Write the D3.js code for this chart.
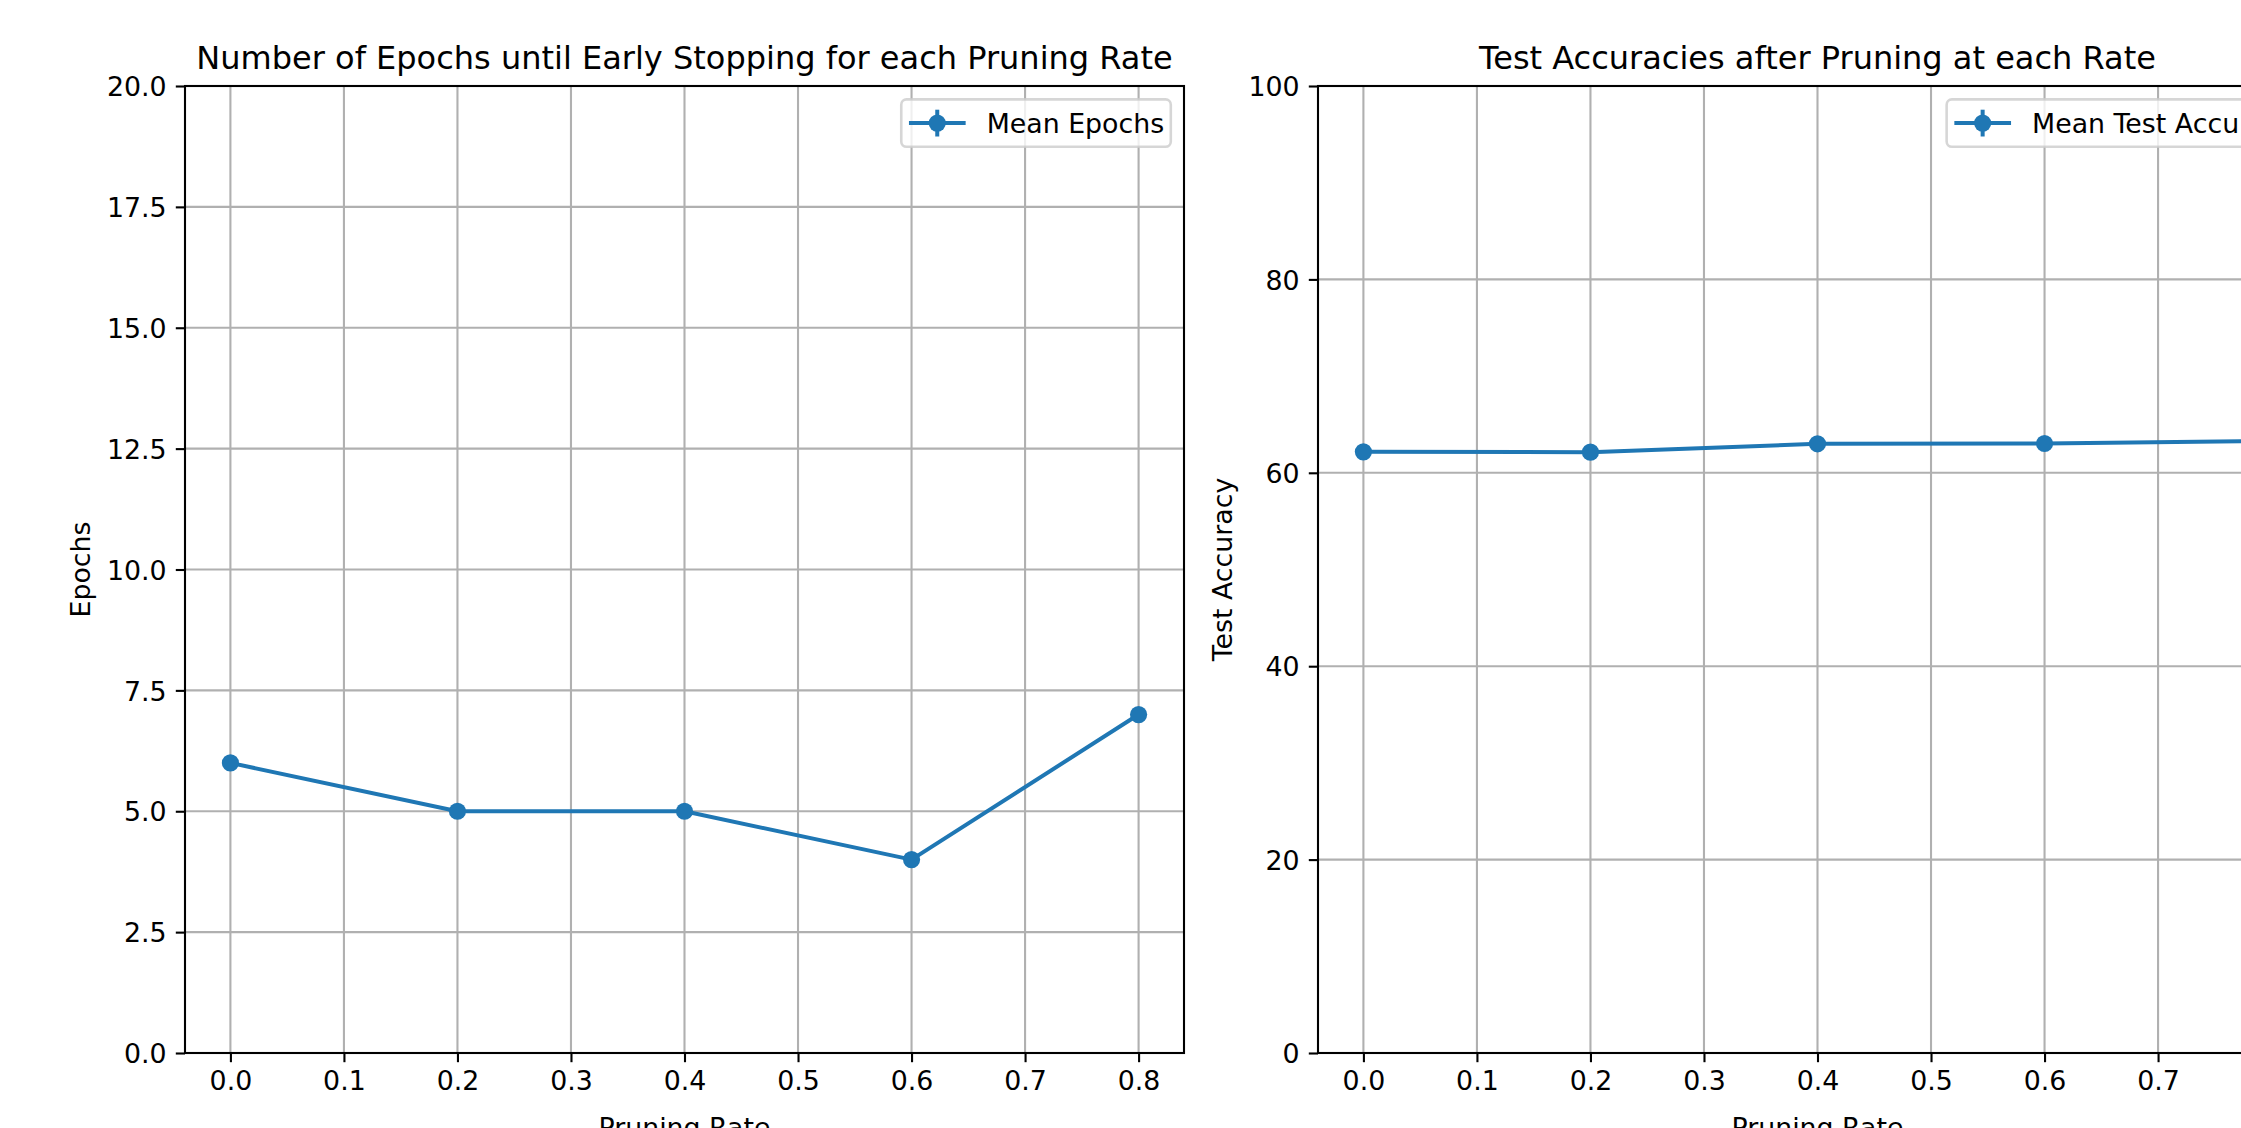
<!DOCTYPE html>
<html>
<head>
<meta charset="utf-8">
<script src="https://cdn.jsdelivr.net/npm/d3@7"></script>
<style>
  body { margin: 0; background: #fff; }
  svg { display: block; }
  text { font-family: "DejaVu Sans", sans-serif; fill: #000; }
</style>
</head>
<body>
<svg id="chart" width="2241" height="1128"></svg>
<script>
// values
const pruningRates = [0.0, 0.2, 0.4, 0.6, 0.8];
const meanEpochs = [6, 5, 5, 4, 7];
const meanTestAccuracy = [62.17, 62.13, 63.0, 63.03, 63.3];

const rateTicks = [0, 0.1, 0.2, 0.3, 0.4, 0.5, 0.6, 0.7, 0.8];
const epochTicks = [0, 2.5, 5, 7.5, 10, 12.5, 15, 17.5, 20];
const accuracyTicks = [0, 20, 40, 60, 80, 100];

const blue = "#1f77b4";
const fs = 26.8; // tick / label / legend font
const titleFs = 32;
const lw = 2.1; // spine + grid width

const svg = d3.select("#chart");

const panels = [
  {
    left: 185, right: 1184, top: 86, bottom: 1053,
    title: "Number of Epochs until Early Stopping for each Pruning Rate",
    ylabel: "Epochs",
    values: meanEpochs,
    yDomain: [0, 20],
    yTicks: epochTicks,
    yFormat: d3.format(".1f"),
    legend: "Mean Epochs",
  },
  {
    left: 1318, right: 2317, top: 86, bottom: 1053,
    title: "Test Accuracies after Pruning at each Rate",
    ylabel: "Test Accuracy",
    values: meanTestAccuracy,
    yDomain: [0, 100],
    yTicks: accuracyTicks,
    yFormat: d3.format("d"),
    legend: "Mean Test Accuracy",
  },
];

panels.forEach(drawPanel);

function drawPanel(p) {
  const x = d3.scaleLinear().domain([-0.04, 0.84]).range([p.left, p.right]);
  const y = d3.scaleLinear().domain(p.yDomain).range([p.bottom, p.top]);
  const g = svg.append("g");

  // grid
  const grid = g.append("g").attr("stroke", "#b0b0b0").attr("stroke-width", lw);
  grid.selectAll(".vgrid")
    .data(rateTicks)
    .join("line")
    .attr("x1", (d) => x(d)).attr("x2", (d) => x(d))
    .attr("y1", p.top).attr("y2", p.bottom);
  grid.selectAll(".hgrid")
    .data(p.yTicks)
    .join("line")
    .attr("x1", p.left).attr("x2", p.right)
    .attr("y1", (d) => y(d)).attr("y2", (d) => y(d));

  // series
  const pts = pruningRates.map((r, i) => [r, p.values[i]]);
  g.append("path")
    .datum(pts)
    .attr("fill", "none")
    .attr("stroke", blue)
    .attr("stroke-width", 4)
    .attr("stroke-linejoin", "round")
    .attr("d", d3.line().x((d) => x(d[0])).y((d) => y(d[1])));
  g.selectAll(".dot")
    .data(pts)
    .join("circle")
    .attr("cx", (d) => x(d[0]))
    .attr("cy", (d) => y(d[1]))
    .attr("r", 8.6)
    .attr("fill", blue);

  // spines
  g.append("rect")
    .attr("x", p.left).attr("y", p.top)
    .attr("width", p.right - p.left).attr("height", p.bottom - p.top)
    .attr("fill", "none").attr("stroke", "#000").attr("stroke-width", lw);

  // axes
  const xAxis = g.append("g")
    .attr("transform", `translate(0,${p.bottom})`)
    .call(d3.axisBottom(x).tickValues(rateTicks).tickFormat(d3.format(".1f"))
      .tickSize(9.2).tickPadding(9.2));
  const yAxis = g.append("g")
    .attr("transform", `translate(${p.left},0)`)
    .call(d3.axisLeft(y).tickValues(p.yTicks).tickFormat(p.yFormat)
      .tickSize(9.2).tickPadding(9.2));
  [xAxis, yAxis].forEach((a) => {
    a.select(".domain").remove();
    a.selectAll("line").attr("stroke", "#000").attr("stroke-width", lw);
    a.selectAll("text")
      .attr("font-family", '"DejaVu Sans", sans-serif')
      .attr("font-size", fs)
      .attr("fill", "#000");
  });
  yAxis.selectAll("text").attr("dy", "0.36em");

  // tick label extents for axis label placement
  let maxW = 0;
  yAxis.selectAll("text").each(function () {
    maxW = Math.max(maxW, this.getComputedTextLength());
  });

  // title
  g.append("text")
    .attr("x", (p.left + p.right) / 2)
    .attr("y", 69.3)
    .attr("text-anchor", "middle")
    .attr("font-size", titleFs)
    .text(p.title);

  // x label
  g.append("text")
    .attr("x", (p.left + p.right) / 2)
    .attr("y", 1136.5)
    .attr("text-anchor", "middle")
    .attr("font-size", fs)
    .text("Pruning Rate");

  // y label
  const ylx = p.left - 18.4 - maxW - 10.6 - 6.2;
  g.append("text")
    .attr("transform", `translate(${ylx},${(p.top + p.bottom) / 2}) rotate(-90)`)
    .attr("text-anchor", "middle")
    .attr("font-size", fs)
    .text(p.ylabel);

  // legend (upper right)
  const lg = g.append("g");
  const frame = lg.append("rect");
  const label = lg.append("text").attr("font-size", fs).text(p.legend);
  const tw = label.node().getComputedTextLength();
  const boxR = p.right - 13.2;
  const boxT = p.top + 13.4;
  const boxH = 47.4;
  const boxW = tw + 92;
  const boxL = boxR - boxW;
  frame
    .attr("x", boxL).attr("y", boxT)
    .attr("width", boxW).attr("height", boxH)
    .attr("rx", 5.3)
    .attr("fill", "#fff").attr("fill-opacity", 0.8)
    .attr("stroke", "#cccccc").attr("stroke-opacity", 0.8)
    .attr("stroke-width", 2.6);
  const hx = boxL + 7.7;
  const hy = boxT + boxH / 2;
  lg.append("line")
    .attr("x1", hx).attr("x2", hx + 56.7)
    .attr("y1", hy).attr("y2", hy)
    .attr("stroke", blue).attr("stroke-width", 4);
  lg.append("line")
    .attr("x1", hx + 28.3).attr("x2", hx + 28.3)
    .attr("y1", hy - 13.4).attr("y2", hy + 13.4)
    .attr("stroke", blue).attr("stroke-width", 4);
  lg.append("circle")
    .attr("cx", hx + 28.3).attr("cy", hy)
    .attr("r", 8.6).attr("fill", blue);
  label.attr("x", hx + 77.7).attr("y", hy + 9.6);
}
</script>
</body>
</html>
